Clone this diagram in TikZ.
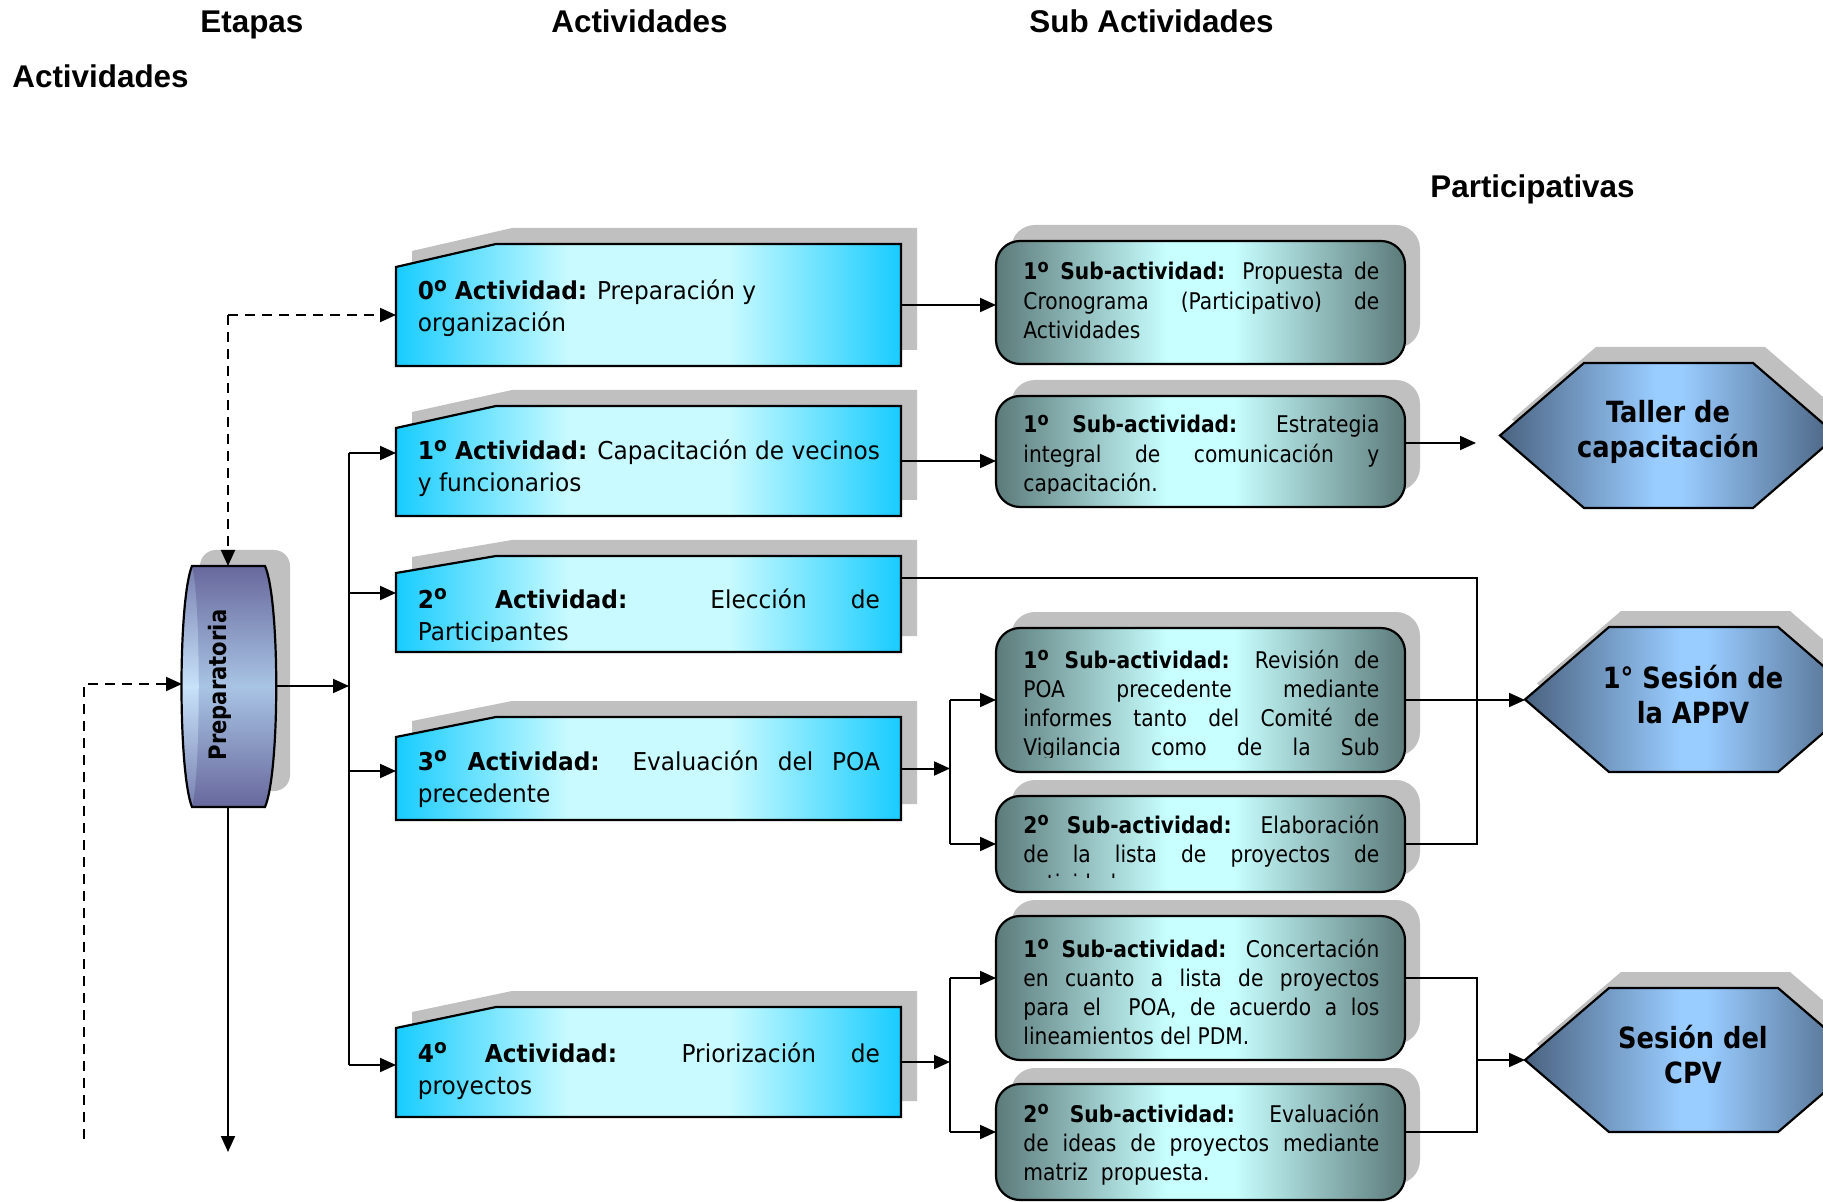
\documentclass[tikz,border=0pt]{standalone}
\usepackage{graphicx}
\usepackage{fontspec}
\setmainfont{DejaVu Sans}[FakeStretch=0.88]
\newfontfamily\actfont{DejaVu Sans}[FakeStretch=0.945]
\newfontfamily\hdrfont{Liberation Sans}
\usetikzlibrary{arrows.meta,fit}

\definecolor{shadowc}{RGB}{192,192,192}
\definecolor{actE}{RGB}{24,204,255}
\definecolor{actM}{RGB}{200,250,255}
\definecolor{subE}{RGB}{92,122,122}
\definecolor{subM}{RGB}{200,255,255}
\definecolor{hexE}{RGB}{74,98,128}
\definecolor{hexM}{RGB}{153,204,255}
\definecolor{cylD}{RGB}{104,104,156}
\definecolor{cylL}{RGB}{168,196,228}
\definecolor{cylDb}{RGB}{120,128,176}
\definecolor{cylLb}{RGB}{200,226,250}

\pgfdeclarehorizontalshading{actshade}{100bp}{color(0bp)=(actE); color(25bp)=(actE); color(42bp)=(actM); color(58bp)=(actM); color(75bp)=(actE); color(100bp)=(actE)}
\pgfdeclarehorizontalshading{subshade}{100bp}{color(0bp)=(subE); color(25bp)=(subE); color(46bp)=(subM); color(54bp)=(subM); color(75bp)=(subE); color(100bp)=(subE)}
\pgfdeclarehorizontalshading{hexshade}{100bp}{color(0bp)=(hexE); color(25bp)=(hexE); color(48bp)=(hexM); color(52bp)=(hexM); color(75bp)=(hexE); color(100bp)=(hexE)}

\tikzset{
  arr/.style={-{Triangle[length=8pt,width=7pt]}},
  conn/.style={line width=1pt},
  dsh/.style={line width=1pt, dash pattern=on 5pt off 3.5pt},
  shapeborder/.style={draw=black, line width=1.1pt},
  anchorbox/.style={inner sep=0pt, outer sep=0pt},
  txtnode/.style={anchor=base west, inner sep=0pt},
  hdr/.style={anchor=base west, inner sep=0pt, font=\hdrfont\bfseries\fontsize{15.7}{19}\selectfont},
}

\newcommand\ordo{\raisebox{0.6ex}{\scalebox{0.8}{o}}}
% activity box: name, top, bottom, cutY
\newcommand\ActShape[4]{%
  \fill[shadowc] (412,{#4-16}) -- (512,{#2-16}) -- (917,{#2-16}) -- (917,{#3-16}) -- (412,{#3-16}) -- cycle;
  \path[shapeborder, shade, shading=actshade] (396,#4) -- (496,#2) -- (901,#2) -- (901,#3) -- (396,#3) -- cycle;
  \node[anchorbox, fit={(396,#2)(901,#3)}] (#1) {};}
% activity text: name, baseline, clipY, top, content
\newcommand\ActText[5]{%
  \begin{scope}
    \clip (396,#4) rectangle (901,#3);
    \node[txtnode] (#1) at (417.5,#2) {\parbox[t]{231pt}{\actfont\fontsize{12.3}{16}\selectfont #5}};
  \end{scope}}
% sub-activity box: name, top, bottom
\newcommand\SubShape[3]{%
  \fill[shadowc, rounded corners=12pt] (1011,{#2-16}) rectangle (1420,{#3-16});
  \path[shapeborder, rounded corners=12pt, shade, shading=subshade] (996,#2) rectangle (1405,#3);
  \node[anchorbox, fit={(996,#2)(1405,#3)}] (#1) {};}
\newcommand\SubText[5]{%
  \begin{scope}
    \clip (996,#4) rectangle (1405,#3);
    \node[txtnode] (#1) at (1023,#2) {\parbox[t]{178pt}{\fontsize{11.5}{14.6}\selectfont #5}};
  \end{scope}}
% hexagon: name, left, top, bottom
\newcommand\HexShape[4]{%
  \fill[shadowc] ({#2+12},{(#3+#4)/2-16}) -- ({#2+96},{#3-16}) -- ({#2+265},{#3-16}) -- ({#2+349},{(#3+#4)/2-16}) -- ({#2+265},{#4-16}) -- ({#2+96},{#4-16}) -- cycle;
  \path[shapeborder, shade, shading=hexshade] (#2,{(#3+#4)/2}) -- ({#2+84},#3) -- ({#2+253},#3) -- ({#2+337},{(#3+#4)/2}) -- ({#2+253},#4) -- ({#2+84},#4) -- cycle;
  \node[anchorbox, fit={(#2,#3)({#2+337},#4)}] (#1) {};}
\newcommand\HexText[4]{%
  \node[anchor=base, inner sep=0pt] (#1) at (#2,#3) {\parbox[t]{170pt}{\centering\bfseries\fontsize{14.6}{17.5}\selectfont #4}};}
\newcommand\JL[1]{\makebox[\linewidth][s]{#1}}

\begin{document}
\begin{tikzpicture}[x=0.5pt,y=-0.5pt]
\useasboundingbox (0,0) rectangle (1823,1202);
\clip (0,0) rectangle (1823,1202);
\fill[white] (0,0) rectangle (1823,1202);

% headers
\node[hdr] (hEt) at (200,33) {Etapas};
\node[hdr] (hAct) at (551,33) {Actividades};
\node[hdr] (hSub) at (1029,33) {Sub Actividades};
\node[hdr] (hActb) at (12,88) {Actividades};
\node[hdr] (hPar) at (1430,198) {Participativas};

% cylinder
\fill[shadowc, rounded corners=8pt] (200,550) rectangle (290,791);
\path[top color=cylD, bottom color=cylD, middle color=cylL] (192,566) -- (265,566) .. controls (280,600) and (280,772) .. (265,807) -- (192,807) .. controls (178,772) and (178,600) .. (192,566) -- cycle;
\path[top color=cylDb, bottom color=cylDb, middle color=cylLb] (192,566) .. controls (178,600) and (178,772) .. (192,807) .. controls (201,772) and (201,600) .. (192,566) -- cycle;
\path[shapeborder] (192,566) -- (265,566) .. controls (280,600) and (280,772) .. (265,807) -- (192,807) .. controls (178,772) and (178,600) .. (192,566) -- cycle;
\node[anchorbox, fit={(182,566)(276,807)}] (cyl) {};
\node[rotate=90, inner sep=0pt, font=\bfseries\fontsize{12}{14}\selectfont] (tcyl) at (220,685) {Preparatoria};

% activity boxes
\ActShape{a0}{244}{366}{267}
\ActShape{a1}{406}{516}{428}
\ActShape{a2}{556}{652}{573}
\ActShape{a3}{717}{820}{737}
\ActShape{a4}{1007}{1117}{1028}
\ActText{ta0}{300}{362}{244}{\textbf{0\ordo{} Actividad:} Preparación y\\organización}
\ActText{ta1}{460}{512}{406}{\JL{\textbf{1\ordo{} Actividad:} Capacitación de vecinos}\\y funcionarios}
\ActText{ta2}{608}{641}{556}{\JL{\textbf{2\ordo{} Actividad:} Elección de}\\Participantes}
\ActText{ta3}{770}{816}{717}{\JL{\textbf{3\ordo{} Actividad:} Evaluación del POA}\\precedente}
\ActText{ta4}{1062}{1113}{1007}{\JL{\textbf{4\ordo{} Actividad:} Priorización de}\\proyectos}

% sub-activity boxes
\SubShape{s0}{241}{364}
\SubShape{s1}{396}{507}
\SubShape{s2}{628}{772}
\SubShape{s3}{796}{892}
\SubShape{s4}{916}{1060}
\SubShape{s5}{1084}{1200}
\SubText{ts0}{280}{360}{241}{\JL{\textbf{1\ordo{} Sub-actividad:} Propuesta de}\\\JL{Cronograma (Participativo) de}\\Actividades}
\SubText{ts1}{433}{494}{396}{\JL{\textbf{1\ordo{} Sub-actividad:} Estrategia}\\\JL{integral de comunicación y}\\capacitación.}
\SubText{ts2}{668}{757}{628}{\JL{\textbf{1\ordo{} Sub-actividad:} Revisión de}\\\JL{POA precedente mediante}\\\JL{informes tanto del Comité de}\\\JL{Vigilancia como de la Sub}}
\SubText{ts3}{833}{877}{796}{\JL{\textbf{2\ordo{} Sub-actividad:} Elaboración}\\\JL{de la lista de proyectos de}\\actividades}
\SubText{ts4}{957}{1056}{916}{\JL{\textbf{1\ordo{} Sub-actividad:} Concertación}\\\JL{en cuanto a lista de proyectos}\\\JL{para el\ \ POA, de acuerdo a los}\\lineamientos del PDM.}
\SubText{ts5}{1122}{1198}{1084}{\JL{\textbf{2\ordo{} Sub-actividad:} Evaluación}\\\JL{de ideas de proyectos mediante}\\matriz~~propuesta.}

% hexagons
\HexShape{h0}{1500}{363}{508}
\HexShape{h1}{1525}{627}{772}
\HexShape{h2}{1525}{988}{1132}
\HexText{th0}{1668}{423}{Taller de\\capacitación}
\HexText{th1}{1693}{688}{1° Sesión de\\la APPV}
\HexText{th2}{1693}{1048}{Sesión del\\CPV}

% connectors
\coordinate (dtop) at (228,315);
\draw[dsh, arr] (dtop) -- (dtop -| a0.west);
\draw[dsh, arr] (dtop) -- (dtop |- cyl.north);
\coordinate (dla) at (84,1139);
\coordinate (dlb) at (84,684);
\draw[dsh, arr] (dla) -- (dlb) -- (dlb -| cyl.west);
\coordinate (cdown) at (228,1152);
\draw[conn, arr] (cyl.south -| cdown) -- (cdown);

\coordinate (b0) at (349,686);
\coordinate (b1) at (349,453);
\coordinate (b2) at (349,593);
\coordinate (b3) at (349,771);
\coordinate (b4) at (349,1065);
\draw[conn, arr] (b0 -| cyl.east) -- (b0);
\draw[conn] (b1) -- (b4);
\draw[conn, arr] (b1) -- (b1 -| a1.west);
\draw[conn, arr] (b2) -- (b2 -| a2.west);
\draw[conn, arr] (b3) -- (b3 -| a3.west);
\draw[conn, arr] (b4) -- (b4 -| a4.west);

\draw[conn, arr] (a0.east) -- (a0.east -| s0.west);
\draw[conn, arr] (a1.east) -- (a1.east -| s1.west);
\coordinate (t1) at (1476,443);
\draw[conn, arr] (t1 -| s1.east) -- (t1);

\coordinate (j2) at (1477,578);
\draw[conn] (j2 -| a2.east) -- (j2) -- (j2 |- s3.east) -- (s3.east);
\draw[conn, arr] (s2.east) -- (s2.east -| h1.west);

\coordinate (kx) at (950,0);
\draw[conn, arr] (a3.east) -- (a3.east -| kx);
\draw[conn] (kx |- s2.west) -- (kx |- s3.west);
\draw[conn, arr] (kx |- s2.west) -- (s2.west);
\draw[conn, arr] (kx |- s3.west) -- (s3.west);

\draw[conn, arr] (a4.east) -- (a4.east -| kx);
\coordinate (k4a) at (950,978);
\coordinate (k4b) at (950,1132);
\draw[conn] (k4a) -- (k4b);
\draw[conn, arr] (k4a) -- (k4a -| s4.west);
\draw[conn, arr] (k4b) -- (k4b -| s5.west);
\coordinate (m4a) at (1477,978);
\coordinate (m4b) at (1477,1132);
\draw[conn] (m4a -| s4.east) -- (m4a) -- (m4b) -- (m4b -| s5.east);
\draw[conn, arr] (m4a |- h2.west) -- (h2.west);
\end{tikzpicture}
\end{document}
